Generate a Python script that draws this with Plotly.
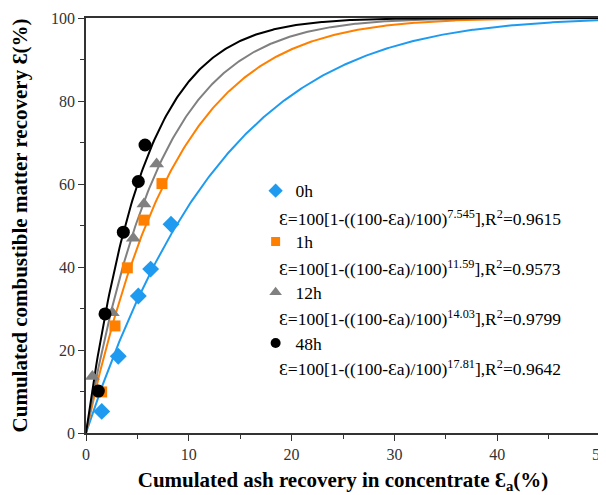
import numpy as np
import plotly.graph_objects as go

# ---- data ----
series_names = ["0h", "1h", "12h", "48h"]
x_0h = [1.53, 3.14, 5.09, 6.29, 8.27]
y_0h = [5.2, 18.5, 33.0, 39.5, 50.3]
x_1h = [1.52, 2.82, 4.02, 5.64, 7.39]
y_1h = [9.9, 25.8, 39.8, 51.3, 60.1]
x_12h = [0.62, 2.56, 4.60, 5.64, 6.87]
y_12h = [13.6, 29.0, 46.9, 55.2, 64.8]
x_48h = [1.20, 1.85, 3.63, 5.09, 5.74]
y_48h = [10.1, 28.7, 48.4, 60.6, 69.4]
exponents = [7.545, 11.59, 14.03, 17.81]
exponent_labels = ["7.545", "11.59", "14.03", "17.81"]
r2_labels = ["0.9615", "0.9573", "0.9799", "0.9642"]
x_ticks = [0, 10, 20, 30, 40, 50]
y_ticks = [0, 20, 40, 60, 80, 100]

xs = [x_0h, x_1h, x_12h, x_48h]
ys = [y_0h, y_1h, y_12h, y_48h]
colors = ["#1E9BF0", "#FF8000", "#808080", "#000000"]
symbols = ["diamond", "square", "triangle-up", "circle"]
sizes = [13, 11, 13, 13]
legend_sizes = [11, 9, 11, 10]

SERIF = "Liberation Serif"

fig = go.Figure()
ea = np.linspace(0, 50, 400)
for i, n in enumerate(exponents):
    fit = 100 * (1 - ((100 - ea) / 100) ** n)
    fig.add_trace(go.Scatter(x=ea, y=fit, mode="lines",
                             line=dict(color=colors[i], width=2),
                             showlegend=False, hoverinfo="skip"))
for i, name in enumerate(series_names):
    fig.add_trace(go.Scatter(x=xs[i], y=ys[i], mode="markers", name=name,
                             legendgroup=name, showlegend=False,
                             marker=dict(color=colors[i], symbol=symbols[i],
                                         size=sizes[i], line=dict(width=0))))
    # legend-only entry with the smaller legend symbol
    fig.add_trace(go.Scatter(x=[None], y=[None], mode="markers", name=name,
                             legendgroup=name, showlegend=True,
                             marker=dict(color=colors[i], symbol=symbols[i],
                                         size=legend_sizes[i], line=dict(width=0))))

ann_y = [0.518, 0.398, 0.277, 0.157]
for i in range(4):
    fig.add_annotation(
        x=0.372, y=ann_y[i], xref="paper", yref="paper",
        xanchor="left", yanchor="middle", showarrow=False,
        text=f"Ɛ=100[1-((100-Ɛa)/100)<sup>{exponent_labels[i]}</sup>],R<sup>2</sup>={r2_labels[i]}",
        font=dict(family=SERIF, size=17.5, color="#000"))

axis_common = dict(
    showline=True, linecolor="#333", linewidth=1.5, mirror=True,
    ticks="outside", ticklen=6, tickwidth=1.2, tickcolor="#333",
    showgrid=False, zeroline=False,
    tickfont=dict(family=SERIF, size=16, color="#333"),
    minor=dict(ticks="outside", ticklen=4, tickwidth=1, tickcolor="#333"),
)

fig.update_layout(
    width=606, height=495,
    margin=dict(l=78, r=14, t=10, b=70, autoexpand=False),
    paper_bgcolor="white", plot_bgcolor="white",
    xaxis=dict(range=[0, 50], tickvals=x_ticks,
               title=dict(text="<b>Cumulated ash recovery in concentrate Ɛ<sub>a</sub>(%)</b>",
                          font=dict(family=SERIF, size=21, color="#000"), standoff=10),
               **axis_common),
    yaxis=dict(range=[0, 100], tickvals=y_ticks,
               title=dict(text="<b>Cumulated combustible matter recovery Ɛ(%)</b>",
                          font=dict(family=SERIF, size=21, color="#000"), standoff=20),
               **axis_common),
    legend=dict(x=0.33, y=0.627, xanchor="left", yanchor="top",
                font=dict(family=SERIF, size=17.5, color="#000"),
                tracegroupgap=25, traceorder="grouped",
                bgcolor="rgba(0,0,0,0)", itemwidth=30),
    showlegend=True,
)
fig.update_xaxes(minor=dict(dtick=5))
fig.update_yaxes(minor=dict(dtick=10))

fig.write_html("out.html")
